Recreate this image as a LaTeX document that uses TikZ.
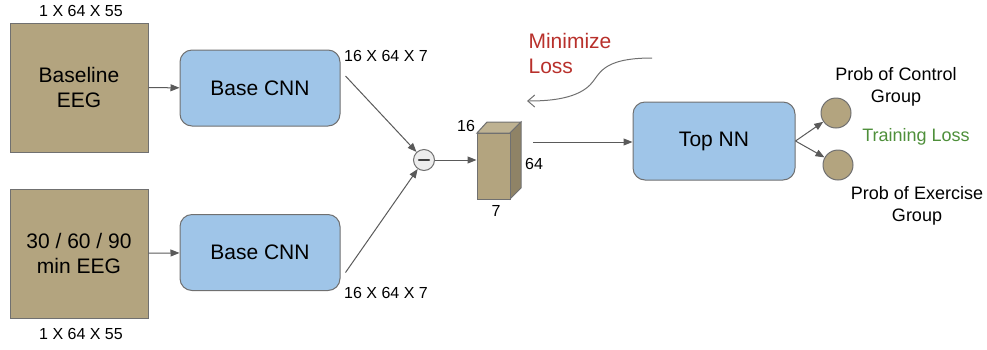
\documentclass[tikz,border=0pt]{standalone}
\usepackage{fontspec}
\setmainfont{Liberation Sans}
\usepackage{tikz}
\usetikzlibrary{shapes,arrows,arrows.meta,positioning,backgrounds}
\definecolor{eegtan}{HTML}{B3A47F}
\definecolor{cnnblue}{HTML}{9FC5E8}
\definecolor{edgegray}{HTML}{707070}
\definecolor{lossred}{HTML}{B8302B}
\definecolor{lossgreen}{HTML}{4E8F3A}
\tikzset{
  eegbox/.style={draw=edgegray, fill=eegtan, line width=1pt, minimum width=138pt, minimum height=129pt, align=center, font=\fontsize{21}{25}\selectfont},
  cnnbox/.style={draw=edgegray, fill=cnnblue, line width=1pt, rounded corners=12pt, minimum width=160pt, minimum height=76pt, align=center, font=\fontsize{21}{25}\selectfont},
  dimlabel/.style={font=\fontsize{16}{19}\selectfont, inner sep=1pt},
  problabel/.style={font=\fontsize{18}{22}\selectfont, align=center, inner sep=1pt},
  outcircle/.style={circle, draw=edgegray, fill=eegtan, line width=1pt, minimum size=30pt, inner sep=0pt},
  flow/.style={-{Triangle[length=9pt,width=7pt]}, draw=edgegray!80!black, line width=1pt}
}
\begin{document}
\begin{tikzpicture}[x=1pt,y=-1pt]
\useasboundingbox (0,0) rectangle (987,349);
% inputs
\node[eegbox] (BaseEEG) at (79,87.5) {Baseline\\EEG};
\node[eegbox] (LaterEEG) at (79,253.5) {30 / 60 / 90\\min EEG};
\node[dimlabel] (BaseDim) at (81,11) {1 X 64 X 55};
\node[dimlabel] (LaterDim) at (81,334) {1 X 64 X 55};
% base networks
\node[cnnbox] (CNNA) at (260,88) {Base CNN};
\node[cnnbox] (CNNB) at (260,252.5) {Base CNN};
\node[dimlabel] (CNNADim) at (386,56) {16 X 64 X 7};
\node[dimlabel] (CNNBDim) at (386,293) {16 X 64 X 7};
\draw[flow] (BaseEEG) -- (CNNA);
\draw[flow] (LaterEEG) -- (CNNB);
% difference
\node[circle, draw=edgegray, fill=black!7, line width=1pt, minimum size=21pt, inner sep=0pt] (Minus) at (424,160) {};
\draw[line width=2.2pt, black!75, line cap=round] (419,160) -- (429,160);
\draw[flow] (CNNA.east) ++(5,-12) coordinate (CNNAout) (CNNAout) -- (Minus);
\draw[flow] (CNNB.east) ++(5,20) coordinate (CNNBout) (CNNBout) -- (Minus);
% feature cube
\draw[draw=edgegray, line width=1pt, fill=eegtan!85!white] (477,133) -- (487,122) -- (521,122) -- (510,133) -- cycle;
\draw[draw=edgegray, line width=1pt, fill=eegtan!80!black] (510,133) -- (521,122) -- (521,188) -- (510,199) -- cycle;
\node[draw=edgegray, fill=eegtan, line width=1pt, minimum width=33pt, minimum height=66pt, inner sep=0pt] (Cube) at (493.5,166) {};
\node[dimlabel] (CubeDepth) at (466,126) {16};
\node[dimlabel] (CubeHeight) at (534,164) {64};
\node[dimlabel] (CubeWidth) at (496,211) {7};
\draw[flow] (Minus) -- (Minus -| Cube.west);
% top network
\node[cnnbox, minimum width=162pt, minimum height=78pt] (TopNN) at (714,141) {Top NN};
\coordinate (CubeOut) at (533,142);
\draw[flow] (CubeOut) -- (CubeOut -| TopNN.west);
% outputs
\node[outcircle] (Control) at (836,113) {};
\node[outcircle] (Exercise) at (838,165) {};
\draw[flow] (TopNN.east) -- (Control);
\draw[flow] (TopNN.east) -- (Exercise);
\node[problabel] (ControlLabel) at (896,87) {Prob of Control\\Group};
\node[problabel, text=lossgreen] (TrainLoss) at (916,137) {Training Loss};
\node[problabel] (ExerciseLabel) at (917,206) {Prob of Exercise\\Group};
% loss
\node[font=\fontsize{21}{25}\selectfont, text=lossred, align=left] (MinLoss) at (570,53) {Minimize\\Loss};
\coordinate (LossStart) at (652,58);
\coordinate (LossEnd) at (527,101);
\draw[edgegray, line width=1pt, -{Straight Barb[length=7pt,width=12pt]}] (LossStart) .. controls (600,58) and (600,75) .. (590,85) .. controls (575,100) and (545,101) .. (LossEnd);
\end{tikzpicture}
\end{document}
